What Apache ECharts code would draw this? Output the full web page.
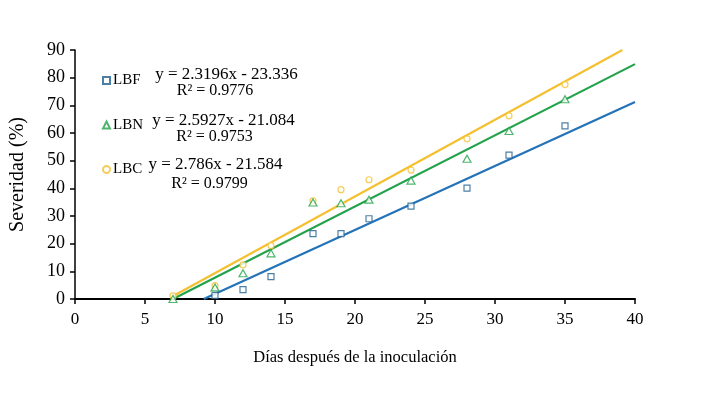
<!DOCTYPE html>
<html><head><meta charset="utf-8">
<script src="https://cdn.jsdelivr.net/npm/echarts@6/dist/echarts.min.js"></script>
<style>html,body{margin:0;padding:0;background:#fff}#c{width:707px;height:396px}</style>
</head><body><div id="c"></div>
<script>
const xTicks = [0,5,10,15,20,25,30,35,40];
const yTicks = [0,10,20,30,40,50,60,70,80,90];
const lbfX = [10,12,14,17,19,21,24,28,31,35];
const lbfY = [1.3,3.4,8.1,23.6,23.6,29.0,33.6,40.1,52.0,62.6];
const lbnX = [7,10,12,14,17,19,21,24,28,31,35];
const lbnY = [0,4.2,9.3,16.5,34.9,34.6,35.9,42.8,50.7,60.7,72.2];
const lbcX = [7,10,12,14,17,19,21,24,28,31,35];
const lbcY = [1.1,4.8,12.3,19.3,35.5,39.5,43.1,46.6,57.9,66.2,77.5];
const lbfTrend = [[9.2,0],[40,71.2]];
const lbnTrend = [[7,0],[40,84.9]];
const lbcTrend = [[6.95,0.9],[39.1,90]];
const names = ['LBF','LBN','LBC'];
const eqs = ['y = 2.3196x - 23.336','y = 2.5927x - 21.084','y = 2.786x - 21.584'];
const r2s = ['R² = 0.9776','R² = 0.9753','R² = 0.9799'];

const cBlue='#1f5f8f', lBlue='#2472b8', cGreen='#22a24a', cYel='#f4c030';
const font='Liberation Serif';
const zip=(a,b)=>a.map((v,i)=>[v,b[i]]);
const chart = echarts.init(document.getElementById('c'));
const eqY=[75,121,165], r2Y=[91,137,184], eqX=[226.5,223.5,215.5], r2X=[215,214.5,209.5];
const graphics=[];
for(let i=0;i<3;i++){
  graphics.push({type:'text',x:eqX[i],y:eqY[i],style:{text:eqs[i],font:'17px "'+font+'"',fill:'#000',align:'center',verticalAlign:'middle'}});
  graphics.push({type:'text',x:r2X[i],y:r2Y[i],style:{text:r2s[i],font:'16px "'+font+'"',fill:'#000',align:'center',verticalAlign:'middle'}});
}
chart.setOption({
  animation:false,
  grid:{left:73,right:72,top:50,bottom:97},
  xAxis:{type:'value',min:0,max:40,interval:5,
    name:'Días después de la inoculación',nameLocation:'middle',nameGap:50,
    nameTextStyle:{fontFamily:font,fontSize:16.5,color:'#000'},
    axisLine:{lineStyle:{color:'#000',width:2}},
    axisTick:{show:true,length:5,lineStyle:{color:'#000',width:1.5}},
    axisLabel:{fontFamily:font,fontSize:17,color:'#000',margin:12},
    splitLine:{show:false}},
  yAxis:{type:'value',min:0,max:90,interval:10,
    name:'Severidad (%)',nameLocation:'middle',nameGap:47,
    nameTextStyle:{fontFamily:font,fontSize:20,color:'#000'},
    axisLine:{show:true,lineStyle:{color:'#000',width:1.5}},
    axisTick:{show:true,length:5,lineStyle:{color:'#000',width:1.5}},
    axisLabel:{fontFamily:font,fontSize:18,color:'#000',margin:10},
    splitLine:{show:false}},
  legend:{data:names,orient:'vertical',left:97,top:68,itemGap:29.5,itemWidth:7,itemHeight:7,
    textStyle:{fontFamily:font,fontSize:15,lineHeight:15,color:'#000',padding:[0,0,0,-2]}},
  graphic:graphics,
  series:[
    {name:'LBF trend',type:'line',data:lbfTrend,showSymbol:false,symbol:'none',lineStyle:{color:lBlue,width:2.2},z:2,silent:true},
    {name:'LBN trend',type:'line',data:lbnTrend,showSymbol:false,symbol:'none',lineStyle:{color:cGreen,width:2.2},z:2,silent:true},
    {name:'LBC trend',type:'line',data:lbcTrend,showSymbol:false,symbol:'none',lineStyle:{color:cYel,width:2.2},z:2,silent:true},
    {name:'LBF',type:'scatter',data:zip(lbfX,lbfY),symbol:'rect',symbolSize:6,itemStyle:{color:'#fff',borderColor:cBlue,borderWidth:1.2},z:3},
    {name:'LBN',type:'scatter',data:zip(lbnX,lbnY),symbol:'triangle',symbolSize:[8,7],itemStyle:{color:'#fff',borderColor:cGreen,borderWidth:1.2},z:4},
    {name:'LBC',type:'scatter',data:zip(lbcX,lbcY),symbol:'circle',symbolSize:6,itemStyle:{color:'#fff',borderColor:cYel,borderWidth:1.2},z:3}
  ]
});
</script></body></html>
